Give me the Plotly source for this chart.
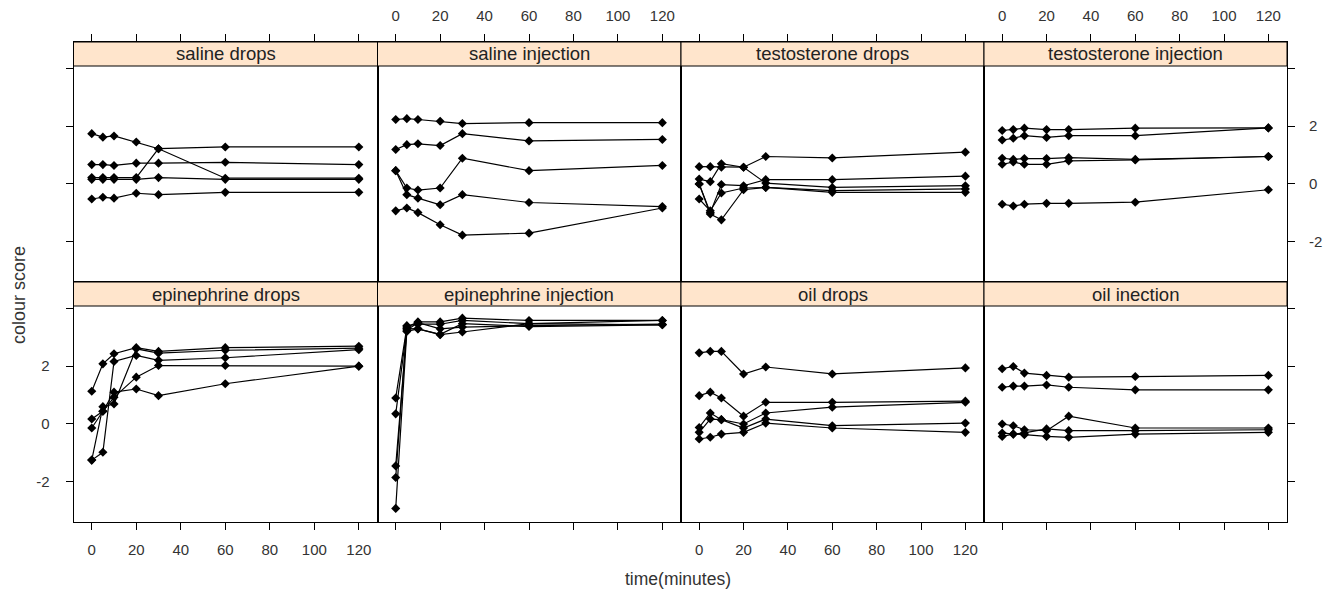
import plotly.graph_objects as go

times = [0, 5, 10, 20, 30, 60, 120]

panel_titles = ["saline drops", "saline injection", "testosterone drops", "testosterone injection",
                "epinephrine drops", "epinephrine injection", "oil drops", "oil inection"]

saline_drops = [
    [1.74, 1.62, 1.66, 1.45, 1.22, 0.20, 0.20],
    [0.22, 0.22, 0.22, 0.22, 1.22, 1.28, 1.28],
    [0.67, 0.67, 0.64, 0.72, 0.72, 0.75, 0.67],
    [0.16, 0.16, 0.16, 0.16, 0.22, 0.16, 0.16],
    [-0.52, -0.46, -0.49, -0.32, -0.37, -0.29, -0.29],
]
saline_injection = [
    [2.23, 2.26, 2.23, 2.17, 2.09, 2.12, 2.12],
    [1.19, 1.36, 1.39, 1.33, 1.74, 1.49, 1.54],
    [0.46, -0.14, -0.21, -0.14, 0.89, 0.46, 0.64],
    [0.46, -0.37, -0.49, -0.72, -0.37, -0.64, -0.78],
    [-0.93, -0.83, -0.99, -1.41, -1.77, -1.70, -0.83],
]
testosterone_drops = [
    [0.60, 0.60, 0.58, 0.58, 0.95, 0.90, 1.10],
    [0.17, 0.08, 0.70, 0.58, 0.03, -0.12, -0.06],
    [0.00, -0.99, -0.02, -0.06, 0.15, 0.15, 0.27],
    [-0.52, -0.93, -0.31, -0.14, -0.12, -0.23, -0.17],
    [0.00, -1.04, -1.24, -0.20, -0.12, -0.29, -0.29],
]
testosterone_injection = [
    [1.85, 1.88, 1.93, 1.88, 1.88, 1.93, 1.94],
    [1.52, 1.58, 1.67, 1.61, 1.67, 1.67, 1.94],
    [0.89, 0.85, 0.88, 0.88, 0.91, 0.85, 0.95],
    [0.68, 0.76, 0.68, 0.68, 0.80, 0.83, 0.95],
    [-0.70, -0.76, -0.70, -0.67, -0.67, -0.63, -0.20],
]
epinephrine_drops = [
    [1.13, 2.08, 2.43, 2.64, 2.51, 2.64, 2.69],
    [0.17, 0.44, 1.10, 1.21, 0.98, 1.39, 2.00],
    [-1.25, -0.98, 2.16, 2.37, 2.20, 2.29, 2.57],
    [-1.25, 0.60, 0.69, 2.60, 2.45, 2.55, 2.62],
    [-0.14, 0.44, 0.92, 1.62, 2.02, 2.02, 2.00],
]
epinephrine_injection = [
    [0.90, 3.35, 3.53, 3.53, 3.66, 3.58, 3.58],
    [0.35, 3.30, 3.29, 3.09, 3.18, 3.47, 3.43],
    [-1.45, 3.25, 3.50, 3.29, 3.35, 3.40, 3.45],
    [-1.85, 3.40, 3.45, 3.45, 3.58, 3.47, 3.58],
    [-2.92, 3.20, 3.29, 3.10, 3.47, 3.37, 3.43],
]
oil_drops = [
    [2.46, 2.51, 2.51, 1.73, 1.97, 1.73, 1.94],
    [0.98, 1.10, 0.90, 0.27, 0.75, 0.75, 0.79],
    [-0.12, 0.38, 0.15, 0.00, 0.38, 0.58, 0.75],
    [-0.29, 0.17, 0.15, -0.14, 0.17, -0.06, 0.03],
    [-0.52, -0.46, -0.35, -0.29, 0.03, -0.14, -0.29],
]
oil_injection = [
    [1.91, 1.99, 1.76, 1.68, 1.62, 1.64, 1.68],
    [1.27, 1.31, 1.31, 1.35, 1.27, 1.18, 1.18],
    [0.00, -0.06, -0.20, -0.23, 0.27, -0.14, -0.14],
    [-0.31, -0.35, -0.31, -0.17, -0.23, -0.23, -0.20],
    [-0.43, -0.35, -0.37, -0.43, -0.46, -0.35, -0.29],
]

panels = [saline_drops, saline_injection, testosterone_drops, testosterone_injection,
          epinephrine_drops, epinephrine_injection, oil_drops, oil_injection]

x_ticks = [0, 20, 40, 60, 80, 100, 120]
y_ticks = [-2, 0, 2, 4]
y_tick_text = ["-2", "0", "2", ""]

# body margin removed via post_script, so the figure fills the window
W, H = 1324, 596


def px_x(p):
    return p / W


def px_y(p):
    return 1 - p / H


col_px = [73.5, 377.5, 681, 984, 1287]
row_px = [(42, 282), (282, 522)]
strip_h = 24
x_range = [-8.2, 128.4]
y_lo, y_hi = -3.39, 4.08
panel_h = 216
y_top = y_hi + (y_hi - y_lo) * strip_h / panel_h

fig = go.Figure()
font_family = "Liberation Sans, Arial, sans-serif"
tick_font = dict(size=15, color="#333", family=font_family)
layout = dict(width=W, height=H, margin=dict(l=0, r=0, t=0, b=0, autoexpand=False),
              paper_bgcolor="white", plot_bgcolor="white", showlegend=False,
              font=dict(family=font_family, color="black", size=12))
shapes, annots = [], []

for i, series in enumerate(panels):
    n = i + 1
    r, c = divmod(i, 4)
    xa = "x" if n == 1 else f"x{n}"
    ya = "y" if n == 1 else f"y{n}"
    for s in series:
        fig.add_trace(go.Scatter(x=times, y=s, mode="lines+markers", xaxis=xa, yaxis=ya,
                                 line=dict(color="black", width=1.2),
                                 marker=dict(symbol="diamond", size=7, color="black")))
    top, bot = row_px[r]
    xd = [px_x(col_px[c]), px_x(col_px[c + 1])]
    yd = [px_y(bot), px_y(top)]
    xk = "xaxis" if n == 1 else f"xaxis{n}"
    yk = "yaxis" if n == 1 else f"yaxis{n}"
    x_labels = (r == 0 and c in (1, 3)) or (r == 1 and c in (0, 2))
    layout[xk] = dict(domain=xd, range=x_range, anchor=ya, side="top" if r == 0 else "bottom",
                      showgrid=False, zeroline=False, showline=True, mirror=True,
                      linecolor="black", linewidth=1, ticks="outside", ticklen=7,
                      tickcolor="black", tickvals=x_ticks, showticklabels=x_labels,
                      tickfont=tick_font, ticklabelstandoff=7, automargin=False)
    ydict = dict(domain=yd, range=[y_lo, y_top], anchor=xa, showgrid=False, zeroline=False,
                 showline=True, mirror=True, linecolor="black", linewidth=1,
                 tickvals=y_ticks, ticktext=y_tick_text, tickfont=tick_font, automargin=False)
    if c == 0:
        ydict.update(side="left", ticks="outside", ticklen=7, tickcolor="black",
                     showticklabels=(r == 1), ticklabelstandoff=13)
    elif c == 3:
        ydict.update(side="right", ticks="outside", ticklen=7, tickcolor="black",
                     showticklabels=(r == 0), ticklabelstandoff=11)
    else:
        ydict.update(ticks="", showticklabels=False)
    layout[yk] = ydict
    frac = panel_h / (bot - top)
    shapes.append(dict(type="rect", xref=f"{xa} domain", yref=f"{ya} domain",
                       x0=0, x1=1, y0=frac, y1=1, fillcolor="#FFE5CC",
                       line=dict(color="black", width=1)))
    annots.append(dict(text=panel_titles[i], xref=f"{xa} domain", yref=f"{ya} domain",
                       x=0.5, y=(1 + frac) / 2, showarrow=False, yanchor="middle",
                       font=dict(size=18.5, color="#222", family=font_family)))

annots.append(dict(text="colour score", xref="paper", yref="paper", x=px_x(19), y=px_y(295),
                   xanchor="center", yanchor="middle",
                   textangle=-90, showarrow=False, font=dict(size=18, color="#333")))
annots.append(dict(text="time(minutes)", xref="paper", yref="paper", x=px_x(678), y=px_y(579),
                   xanchor="center", yanchor="middle",
                   showarrow=False, font=dict(size=17.5, color="#333")))
layout["shapes"] = shapes
layout["annotations"] = annots
fig.update_layout(**layout)
fig.write_html("out.html", config={"displayModeBar": False},
               post_script="document.body.style.margin='0';document.body.style.overflow='hidden';")
